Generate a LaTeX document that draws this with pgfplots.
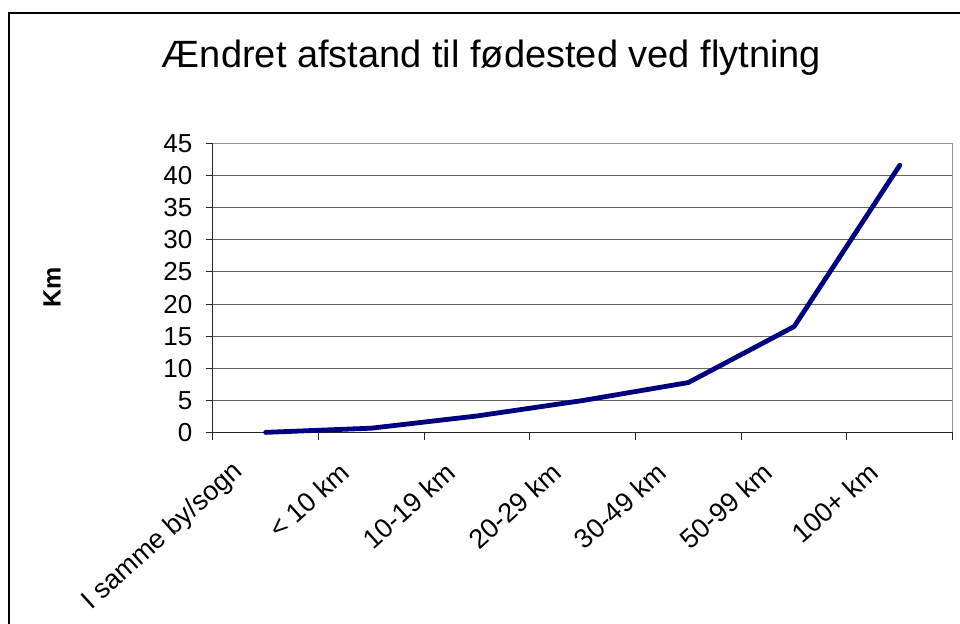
\documentclass[border=0pt]{standalone}
\usepackage{pgfplots}
\pgfplotsset{compat=1.18}
\usepackage{fontspec}
\setmainfont{Liberation Sans}
\definecolor{navyline}{RGB}{0,0,128}
\definecolor{gridgray}{RGB}{100,100,100}
\definecolor{framegray}{RGB}{150,150,150}
\begin{document}
\begin{tikzpicture}
\path[use as bounding box] (0,0) rectangle (480pt,312pt);
\begin{scope}
\clip (0,0) rectangle (480pt,312pt);
\draw[line width=1.1pt, black] (4.5pt,305.5pt) rectangle (600pt,-50pt);
\end{scope}
\begin{axis}[
  at={(106.35pt,95.65pt)}, anchor=south west,
  scale only axis, width=370pt, height=144.7pt,
  xmin=-0.5, xmax=6.5, ymin=0, ymax=45,
  ytick={0,5,...,45},
  xtick={0,1,2,3,4,5,6},
  xticklabels={I samme by/sogn, < 10 km, 10-19 km, 20-29 km, 30-49 km, 50-99 km, 100+ km},
  minor xtick={-0.5,0.5,1.5,2.5,3.5,4.5,5.5,6.5},
  major x tick style={draw=none},
  tick align=outside,
  xtick pos=bottom, ytick pos=left,
  major tick length=3.5pt, minor tick length=3.5pt,
  tick style={black!85, line width=0.5pt},
  ymajorgrids,
  grid style={gridgray, line width=0.5pt},
  axis line style={framegray, line width=0.6pt},
  /pgf/number format/assume math mode=true,
  yticklabel style={font=\fontsize{13}{15}\selectfont, anchor=east, inner sep=0pt, xshift=-6.5pt},
  xticklabel style={font=\fontsize{13.5}{15}\selectfont, inner sep=0pt, xshift=-13pt, yshift=-14pt, rotate=42, anchor=east},
  clip=false,
]
\draw[black!85, line width=0.6pt] (rel axis cs:0,1) -- (rel axis cs:0,0) -- (rel axis cs:1,0);
\addplot[navyline, line width=2.4pt, line join=round, line cap=round] coordinates {
  (0,0.05) (1,0.7) (2,2.6) (3,5.0) (4,7.8) (5,16.5) (6,41.6)
};
\end{axis}
\node[font=\fontsize{19}{22}\selectfont, anchor=base] at (245.75pt,278pt) {Ændret afstand til fødested ved flytning};
\node[font=\fontsize{12.5}{15}\selectfont\bfseries, rotate=90] at (26pt,168.5pt) {Km};
\end{tikzpicture}
\end{document}
